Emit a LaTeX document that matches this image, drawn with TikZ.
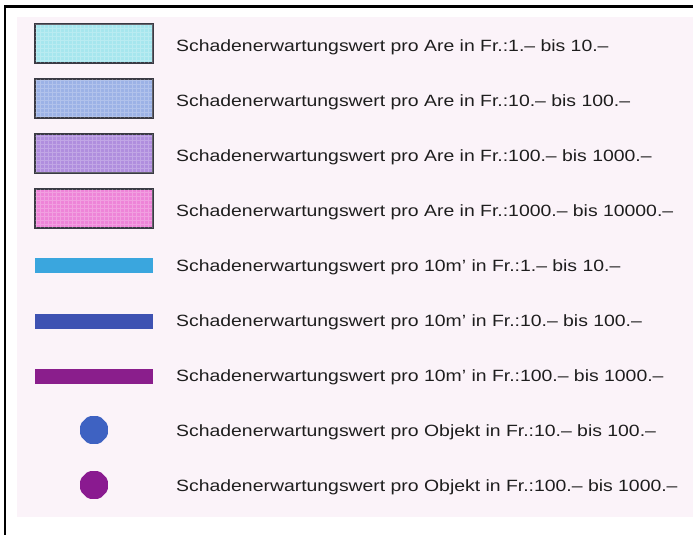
\documentclass[tikz,border=0pt]{standalone}
\usepackage{fontspec}
\setmainfont{Liberation Sans}
\newfontfamily\lblfont[FakeStretch=1.19]{Liberation Sans}
\definecolor{bgpink}{HTML}{FBF3F9}
\definecolor{swA}{HTML}{A6E6EE}
\definecolor{swB}{HTML}{9CB2E6}
\definecolor{swC}{HTML}{B08EDE}
\definecolor{swD}{HTML}{EE84D8}
\definecolor{barA}{HTML}{3AA6DE}
\definecolor{barB}{HTML}{3E52B2}
\definecolor{barC}{HTML}{8A1E8C}
\definecolor{dotA}{HTML}{3E62C2}
\definecolor{dotB}{HTML}{8A1A90}
\definecolor{txt}{HTML}{1E1E1E}
\definecolor{edge}{HTML}{3A3A44}
\usetikzlibrary{shapes.geometric}
\tikzset{
  swatch/.style={draw=edge, line width=1.6pt, minimum width=118pt, minimum height=39pt, inner sep=0pt},
  bar/.style={minimum width=118pt, minimum height=15pt, inner sep=0pt},
  dot/.style={regular polygon, regular polygon sides=8, minimum size=30pt, inner sep=0pt, rounded corners=2pt},
  lbl/.style={anchor=west, inner sep=0pt, text=txt, font=\lblfont\fontsize{16.3pt}{19pt}\selectfont},
}
\begin{document}
\begin{tikzpicture}[x=1pt,y=-1pt]
\useasboundingbox (0,0) rectangle (693,535);
\fill[white] (0,0) rectangle (693,535);
\fill[bgpink] (17,17) rectangle (693,517);
\draw[black, line width=2.5pt] (5,535) -- (5,6.5) -- (693,6.5);
% swatches
\node[swatch, fill=swA] (s1) at (94,43.5) {};
\node[swatch, fill=swB] (s2) at (94,98.5) {};
\node[swatch, fill=swC] (s3) at (94,153.5) {};
\node[swatch, fill=swD] (s4) at (94,208.5) {};
\foreach \n in {s1,s2,s3,s4}{
  \begin{scope}
  \clip ([xshift=1pt,yshift=-1pt]\n.north west) rectangle ([xshift=-1pt,yshift=1pt]\n.south east);
  \draw[white, opacity=0.22, line width=0.5pt, step=4pt] (\n.north west) grid (\n.south east);
  \end{scope}
}
% bars
\node[bar, fill=barA] (b1) at (94,265.5) {};
\node[bar, fill=barB] (b2) at (94,321.5) {};
\node[bar, fill=barC] (b3) at (94,376) {};
% dots
\node[dot, fill=dotA] (d1) at (94,430) {};
\node[dot, fill=dotB] (d2) at (94,485) {};
% labels
\node[lbl] (t1) at (176,47) {Schadenerwartungswert pro Are in Fr.:1.– bis 10.–};
\node[lbl] (t2) at (176,102) {Schadenerwartungswert pro Are in Fr.:10.– bis 100.–};
\node[lbl] (t3) at (176,157) {Schadenerwartungswert pro Are in Fr.:100.– bis 1000.–};
\node[lbl] (t4) at (176,212) {Schadenerwartungswert pro Are in Fr.:1000.– bis 10000.–};
\node[lbl] (t5) at (176,267) {Schadenerwartungswert pro 10m’ in Fr.:1.– bis 10.–};
\node[lbl] (t6) at (176,322) {Schadenerwartungswert pro 10m’ in Fr.:10.– bis 100.–};
\node[lbl] (t7) at (176,377) {Schadenerwartungswert pro 10m’ in Fr.:100.– bis 1000.–};
\node[lbl] (t8) at (176,432) {Schadenerwartungswert pro Objekt in Fr.:10.– bis 100.–};
\node[lbl] (t9) at (176,487) {Schadenerwartungswert pro Objekt in Fr.:100.– bis 1000.–};
\end{tikzpicture}
\end{document}
